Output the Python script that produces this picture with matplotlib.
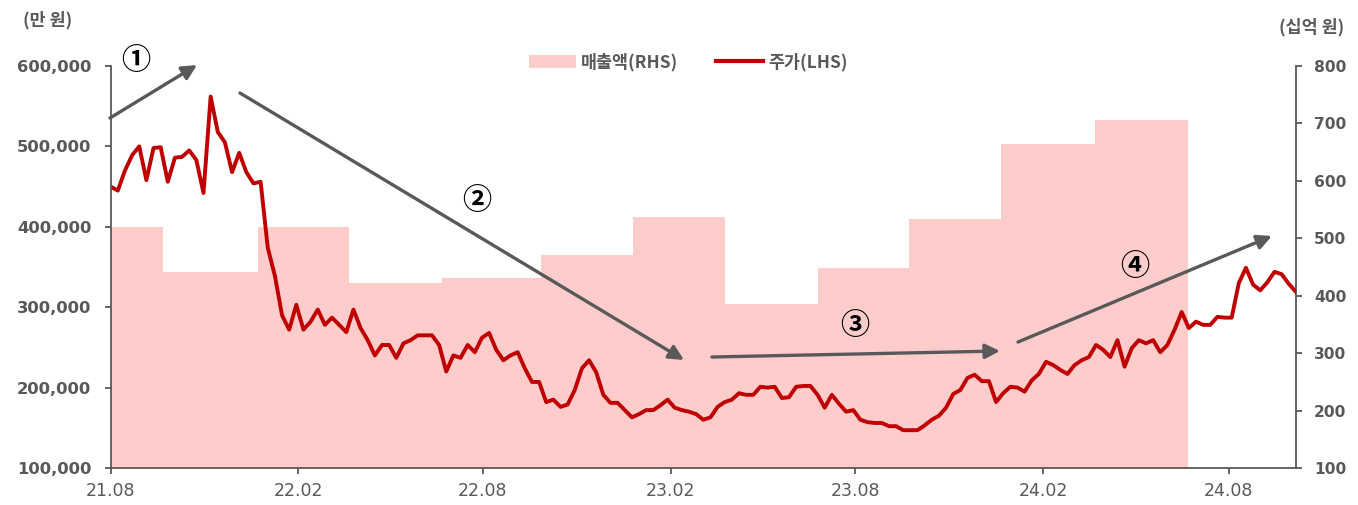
import matplotlib
matplotlib.use("Agg")
import matplotlib.pyplot as plt
import matplotlib.dates as mdates
from matplotlib.patches import FancyArrowPatch
from matplotlib.lines import Line2D
from matplotlib.patches import Patch
import pandas as pd
import numpy as np

plt.rcParams['font.family'] = ['Noto Sans CJK KR', 'DejaVu Sans']

# ---- data ----
price_start = "2021-08-01"
price_freq_days = 7
price_k = [  # stock price, thousand KRW, weekly
    450, 445, 470, 489, 500, 458, 498, 499, 456, 486,
    487, 495, 483, 442, 562, 518, 505, 468, 492, 468,
    454, 456, 374, 339, 290, 272, 303, 272, 282, 297,
    278, 287, 278, 269, 297, 274, 259, 240, 253, 253,
    237, 255, 259, 265, 265, 265, 253, 220, 240, 237,
    253, 244, 262, 268, 247, 234, 240, 244, 224, 207,
    207, 182, 185, 176, 179, 197, 224, 234, 219, 191,
    181, 181, 172, 163, 167, 172, 172, 178, 185, 175,
    172, 170, 167, 160, 163, 176, 182, 185, 193, 191,
    191, 201, 200, 201, 187, 188, 201, 202, 202, 191,
    175, 191, 180, 170, 172, 160, 157, 156, 156, 152,
    152, 147, 147, 147, 153, 160, 165, 175, 192, 197,
    212, 216, 208, 208, 182, 193, 201, 200, 195, 209,
    217, 232, 228, 222, 217, 228, 234, 238, 253, 247,
    238, 259, 226, 249, 259, 255, 259, 244, 253, 272,
    294, 274, 282, 278, 278, 288, 287, 287, 330, 349,
    328, 321, 331, 344, 341, 329, 319,
]
rev_dates = ["2021-08-01", "2021-09-21", "2021-12-23", "2022-03-23", "2022-06-22",
             "2022-09-27", "2022-12-26", "2023-03-26", "2023-06-25", "2023-09-23",
             "2023-12-22", "2024-03-23", "2024-06-22"]
revenue = [520, 441, 520, 422, 431, 471, 537, 386, 448, 534, 664, 706]  # 십억 원

left_ticks = [100000, 200000, 300000, 400000, 500000, 600000]
right_ticks = [100, 200, 300, 400, 500, 600, 700, 800]
x_ticks = ["2021-08-01", "2022-02-01", "2022-08-01", "2023-02-01", "2023-08-01",
           "2024-02-01", "2024-08-01"]

GRAY = "#595959"
RED = "#C00000"
PINK = "#FFCCCC"

dates = pd.date_range(price_start, periods=len(price_k), freq=f"{price_freq_days}D")
price = np.array(price_k) * 1000

fig = plt.figure(figsize=(13.58, 5.05), dpi=100)
ax = fig.add_axes([0.0815, 0.0733, 0.8728, 0.796])
ax2 = ax.twinx()

# revenue step area on right axis
rd = pd.to_datetime(rev_dates)
rv = list(revenue) + [revenue[-1]]
ax2.fill_between(rd, 0, rv, step="post", color=PINK, linewidth=0)
ax2.set_ylim(100, 800)
ax2.set_yticks(right_ticks)

ax.set_zorder(ax2.get_zorder() + 1)
ax.patch.set_visible(False)
ax.plot(dates, price, color=RED, lw=2.8, solid_joinstyle="round")
ax.set_ylim(100000, 600000)
ax.set_yticks(left_ticks)
ax.set_yticklabels([f"{v:,}" for v in left_ticks])
ax.set_xlim(dates[0], dates[-1])
ax.set_xticks(pd.to_datetime(x_ticks))
ax.xaxis.set_major_formatter(mdates.DateFormatter("%y.%m"))

for a in (ax, ax2):
    a.spines['top'].set_visible(False)
    for s in ('left', 'right', 'bottom'):
        a.spines[s].set_color(GRAY)
        a.spines[s].set_linewidth(1.3)
    a.tick_params(colors=GRAY, width=1.3, length=4)
ax.spines['right'].set_visible(False)
ax2.spines['left'].set_visible(False)
ax2.spines['bottom'].set_visible(False)
ax.tick_params(axis='y', pad=10)
ax2.tick_params(axis='y', pad=9)
ax.tick_params(axis='x', pad=6)

for lab in ax.get_yticklabels():
    lab.set_fontsize(11.8)
    lab.set_fontweight('bold')
    lab.set_family(['DejaVu Sans'])
    lab.set_color(GRAY)
for lab in ax2.get_yticklabels():
    lab.set_fontsize(11.2)
    lab.set_fontweight('bold')
    lab.set_family(['DejaVu Sans'])
    lab.set_color(GRAY)
for lab in ax.get_xticklabels():
    lab.set_fontsize(12.5)
    lab.set_family(['DejaVu Sans'])
    lab.set_color(GRAY)

fig.text(0.017, 0.960, "(만 원)", fontsize=12.5, fontweight='bold', color=GRAY, ha='left', va='center')
fig.text(0.990, 0.947, "(십억 원)", fontsize=12.5, fontweight='bold', color=GRAY, ha='right', va='center')

handles = [Patch(facecolor=PINK, edgecolor='none'),
           Line2D([0], [0], color=RED, lw=3)]
leg = fig.legend(handles, ["매출액(RHS)", "주가(LHS)"], loc='center',
                 bbox_to_anchor=(0.507, 0.877), ncol=2, frameon=False,
                 fontsize=12.5, handlelength=2.7, handleheight=0.75,
                 columnspacing=2.2, handletextpad=0.3)
for t in leg.get_texts():
    t.set_color(GRAY)
    t.set_fontweight('bold')

arrows = [((-0.0006, 0.8706), (0.0728, 1.0025)),
          ((0.1091, 0.9328), (0.4837, 0.2687)),
          ((0.5073, 0.2761), (0.7503, 0.2910)),
          ((0.7655, 0.3134), (0.9797, 0.5771))]
for s, e in arrows:
    p = FancyArrowPatch(s, e, transform=ax.transAxes, arrowstyle='-|>',
                        mutation_scale=22, color=GRAY, lw=2.4, clip_on=False,
                        shrinkA=0, shrinkB=0, zorder=10)
    ax.add_patch(p)

labels = [("①", 0.0213, 1.0149), ("②", 0.309, 0.6667),
          ("③", 0.6278, 0.3557), ("④", 0.8642, 0.5025)]
for t, x, y in labels:
    ax.text(x, y, t, transform=ax.transAxes, fontsize=21, color='black',
            fontweight='bold', ha='center', va='center',
            family=['Noto Sans CJK KR', 'DejaVu Sans'], clip_on=False)

fig.savefig("out.png", dpi=100)
